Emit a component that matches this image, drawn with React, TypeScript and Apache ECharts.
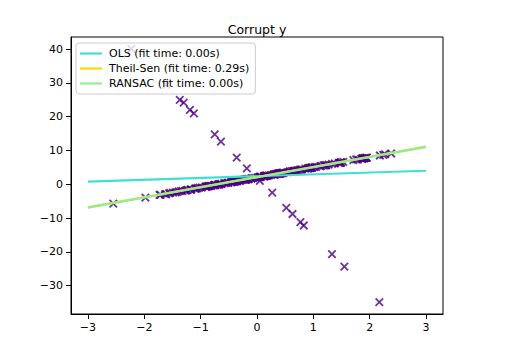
import React, { useEffect, useRef } from "react";
import * as echarts from "echarts";

const TITLE = "Corrupt y";

// inlier points [x, y]
const inliers: number[][] = [
  [1.76, 7.38], [0.40, 3.16], [0.98, 4.99], [2.24, 8.70], [1.87, 7.56], [-0.98, -0.95],
  [0.95, 4.88], [-0.15, 1.60], [-0.10, 1.69], [0.41, 3.17], [0.14, 2.43], [1.45, 6.36],
  [0.76, 4.35], [0.12, 2.34], [0.44, 3.39], [0.33, 3.03], [1.49, 6.41], [-0.21, 1.40],
  [0.31, 2.87], [-0.85, -0.57], [-2.55, -5.74], [0.65, 3.92], [0.86, 4.61], [-0.74, -0.24],
  [2.27, 8.84], [-1.45, -2.42], [0.05, 2.18], [-0.19, 1.47], [1.53, 6.62], [1.47, 6.35],
  [0.15, 2.51], [0.38, 3.13], [-0.89, -0.70], [-1.98, -3.97], [-0.35, 0.91], [0.16, 2.54],
  [1.23, 5.68], [1.20, 5.57], [-0.39, 0.85], [-0.30, 1.06], [-1.05, -1.10], [-1.42, -2.31],
  [-1.71, -3.12], [1.95, 7.89], [-0.51, 0.44], [-0.44, 0.69], [-1.25, -1.80], [0.78, 4.31],
  [-1.61, -2.90], [-0.21, 1.33], [-0.90, -0.66], [0.39, 3.25], [-0.51, 0.51], [-1.18, -1.56],
  [-0.03, 1.92], [0.43, 3.26], [0.07, 2.23], [0.30, 2.86], [-0.63, 0.09], [-0.36, 0.98],
  [-0.67, 0.00], [-0.36, 0.88], [-0.81, -0.46], [-1.73, -3.16], [0.18, 2.49], [-0.40, 0.75],
  [-1.63, -2.93], [0.46, 3.42], [-0.91, -0.70], [0.05, 2.09], [0.73, 4.17], [0.13, 2.45],
  [1.14, 5.46], [-1.23, -1.66], [0.40, 3.26], [-0.68, -0.08], [-0.87, -0.64], [-0.58, 0.31],
  [-0.31, 1.02], [0.06, 2.24], [-1.17, -1.49], [0.90, 4.63], [0.47, 3.39], [-1.54, -2.57],
  [1.49, 6.52], [1.90, 7.66], [1.18, 5.59], [-0.18, 1.43], [-1.07, -1.27], [1.05, 5.13],
  [-0.40, 0.86], [1.22, 5.62], [0.21, 2.60], [0.98, 4.90], [0.36, 3.14], [0.71, 4.08],
  [0.01, 2.05], [1.79, 7.33], [0.13, 2.35], [0.40, 3.22], [1.88, 7.71], [-1.35, -2.03],
  [-1.27, -1.86], [0.97, 4.95], [-1.17, -1.55], [1.94, 7.79], [-0.41, 0.74], [-0.75, -0.20],
  [1.92, 7.80], [1.48, 6.40], [1.87, 7.65], [0.91, 4.70], [-0.86, -0.54], [1.91, 7.69],
  [-0.27, 1.22], [0.80, 4.43], [0.95, 4.80], [-0.16, 1.50], [0.61, 3.87], [0.92, 4.79],
  [0.38, 3.09], [-1.10, -1.33], [0.30, 2.95], [1.33, 6.02], [-0.70, -0.14], [-0.15, 1.51],
  [-0.44, 0.72], [1.85, 7.52], [0.67, 4.05], [0.41, 3.28], [-0.77, -0.33], [0.54, 3.60],
  [-0.67, 0.03], [0.03, 2.06], [-0.64, 0.05], [0.68, 3.99], [0.58, 3.77], [-0.21, 1.35],
  [0.40, 3.15], [-1.09, -1.24], [-1.49, -2.45], [0.44, 3.30], [0.17, 2.55], [0.64, 3.89],
  [2.38, 9.11], [0.94, 4.86], [-0.91, -0.77], [1.12, 5.33], [-1.32, -1.93], [-0.46, 0.60],
  [-0.07, 1.83], [1.71, 7.17], [-0.75, -0.28], [-0.83, -0.47], [-0.10, 1.74], [0.35, 3.01],
  [-0.45, 0.62], [2.18, 8.52], [-1.56, -2.70], [-1.39, -2.12], [-1.02, -1.02], [0.58, 3.72],
  [1.02, 5.08], [1.27, 5.83], [1.38, 6.15], [-0.55, 0.36], [0.25, 2.74], [-0.24, 1.29],
];

// outlier points [x, y]
const outliers: number[][] = [
  [-2.23, 40.1], [-1.61, 29.4], [-1.37, 25.0], [-1.30, 24.2], [-1.19, 22.0], [-1.12, 21.0],
  [-0.75, 14.8], [-0.64, 12.6], [-0.36, 7.9], [-0.18, 4.7], [0.05, 1.0], [0.27, -2.5],
  [0.52, -7.0], [0.63, -8.8], [0.77, -11.2], [0.83, -12.2], [1.33, -20.7], [1.55, -24.4],
  [2.17, -34.9],
];

const lineX = [-3, 3];
const olsY = [0.8, 4.0];
const theilY = [-6.85, 11.15];
const ransacY = [-6.9, 11.05];

const names = ["OLS (fit time: 0.00s)", "Theil-Sen (fit time: 0.29s)", "RANSAC (fit time: 0.00s)"];
const colors = ["#40e0d0", "#ffd700", "#90ee90"];

const xTicks = [-3, -2, -1, 0, 1, 2, 3];
const yTicks = [-30, -20, -10, 0, 10, 20, 30, 40];

const fmt = (v: number) => (v < 0 ? "\u2212" + Math.abs(v) : String(v));
const FONT = "DejaVu Sans";

export default function App() {
  const ref = useRef<HTMLDivElement>(null);
  useEffect(() => {
    if (!ref.current) return;
    const chart = echarts.init(ref.current, undefined, { renderer: "svg" });
    const lines = [olsY, theilY, ransacY].map((ys, i) => ({
      name: names[i],
      type: "line",
      data: lineX.map((x, j) => [x, ys[j]]),
      showSymbol: false,
      symbol: "none",
      lineStyle: { color: colors[i], width: 2.2 },
      itemStyle: { color: colors[i] },
      z: 3 + i,
    }));
    chart.setOption({
      animation: false,
      backgroundColor: "#ffffff",
      textStyle: { fontFamily: FONT },
      title: {
        text: TITLE,
        left: "center",
        top: 18,
        textStyle: { fontFamily: FONT, fontSize: 12.5, fontWeight: "normal", color: "#000" },
      },
      legend: {
        orient: "vertical",
        left: 76,
        top: 43,
        data: names.map((n) => ({ name: n, icon: "rect" })),
        itemWidth: 22,
        itemHeight: 2.2,
        itemGap: 2,
        padding: [4, 6, 4, 4],
        backgroundColor: "rgba(255,255,255,0.8)",
        borderColor: "#cccccc",
        borderWidth: 1,
        borderRadius: 3,
        textStyle: { fontFamily: FONT, fontSize: 11, color: "#000", lineHeight: 13, padding: [0, 0, 0, 2] },
        z: 10,
      },
      grid: {
        left: 71,
        top: 37,
        width: 372,
        height: 277,
        show: true,
        borderColor: "#000",
        borderWidth: 1,
        containLabel: false,
      },
      xAxis: {
        type: "value",
        min: -3.3,
        max: 3.3,
        splitLine: { show: false },
        axisLine: { show: true, onZero: false, lineStyle: { color: "#000" } },
        axisTick: { show: true, inside: false, length: 5, customValues: xTicks, lineStyle: { color: "#000" } },
        axisLabel: {
          customValues: xTicks,
          formatter: fmt,
          margin: 8,
          fontFamily: FONT,
          fontSize: 11,
          color: "#000",
        },
      },
      yAxis: {
        type: "value",
        min: -38.4,
        max: 43.6,
        splitLine: { show: false },
        axisLine: { show: true, onZero: false, lineStyle: { color: "#000" } },
        axisTick: { show: true, inside: false, length: 5, customValues: yTicks, lineStyle: { color: "#000" } },
        axisLabel: {
          customValues: yTicks,
          formatter: fmt,
          margin: 8,
          fontFamily: FONT,
          fontSize: 11,
          color: "#000",
        },
      },
      series: [
        {
          name: "data",
          type: "scatter",
          data: [...inliers, ...outliers],
          symbol: "path://M0,0L10,10M10,0L0,10",
          symbolSize: 7.5,
          itemStyle: { color: "rgba(0,0,0,0)", borderColor: "#4b0082", borderWidth: 1.8 },
          z: 2,
        },
        ...lines,
      ],
    });
    return () => chart.dispose();
  }, []);
  return <div ref={ref} style={{ position: "fixed", left: 0, top: 0, width: 514, height: 355 }} />;
}
